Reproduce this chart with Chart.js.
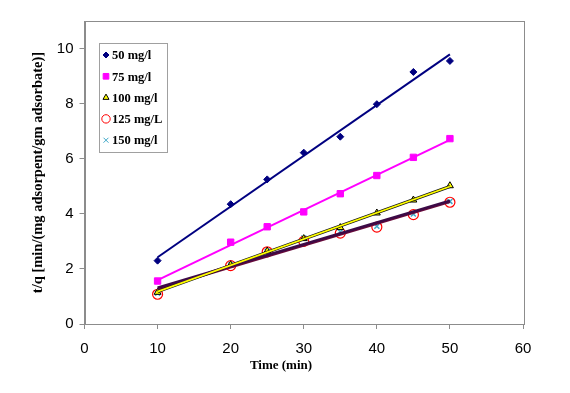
<!DOCTYPE html>
<html>
<head>
<meta charset="utf-8">
<script src="https://cdn.jsdelivr.net/npm/chart.js@4.4.1/dist/chart.umd.min.js"></script>
<style>
  html, body { margin: 0; padding: 0; background: #fff; }
</style>
</head>
<body>
<canvas id="kineticsChart" width="570" height="393"></canvas>
<script>
// Pseudo-second-order plot: t/q against time for each initial concentration
const times = [10, 20, 25, 30, 35, 40, 45, 50];
const seriesLabels = ["50 mg/l", "75 mg/l", "100 mg/l", "125 mg/L", "150 mg/l"];
const conc50 = [2.3, 4.35, 5.25, 6.22, 6.8, 7.98, 9.15, 9.55];
const conc75 = [1.56, 2.97, 3.53, 4.07, 4.73, 5.39, 6.05, 6.73];
const conc100 = [1.15, 2.15, 2.65, 3.1, 3.5, 4.03, 4.5, 5.02];
const conc125 = [1.08, 2.12, 2.62, 3.0, 3.3, 3.52, 3.97, 4.42];
const conc150 = [1.12, 2.14, 2.64, 3.12, 3.35, 3.55, 3.99, 4.45];
const xTicks = [0, 10, 20, 30, 40, 50, 60];
const yTicks = [0, 2, 4, 6, 8, 10];
const xTitle = "Time (min)";

const serif = "'Liberation Serif', 'Times New Roman', serif";
const sans = "'Liberation Sans', Arial, sans-serif";

function points(values) {
  return times.map((t, i) => ({ x: t, y: values[i] }));
}

// least squares line, drawn over the measured range like an Excel trendline
function trend(values) {
  const n = times.length;
  const mx = times.reduce((a, b) => a + b, 0) / n;
  const my = values.reduce((a, b) => a + b, 0) / n;
  let sxy = 0, sxx = 0;
  times.forEach((t, i) => {
    sxy += (t - mx) * (values[i] - my);
    sxx += (t - mx) * (t - mx);
  });
  const slope = sxy / sxx;
  const x0 = times[0], x1 = times[n - 1];
  return [
    { x: x0, y: my + slope * (x0 - mx) },
    { x: x1, y: my + slope * (x1 - mx) },
  ];
}

function markerSet(label, values, style) {
  return Object.assign({
    label: label,
    data: points(values),
    showLine: false,
    order: 3,
  }, style);
}

// lower order is painted later, i.e. on top
function trendSet(values, color, width, order) {
  return {
    label: "trend",
    data: trend(values),
    showLine: true,
    pointRadius: 0,
    borderColor: color,
    borderWidth: width,
    fill: false,
    order: order,
  };
}

// legend box inside the plot, as in the spreadsheet chart
const insideLegend = {
  id: "insideLegend",
  afterDraw(chart) {
    const ctx = chart.ctx;
    ctx.save();
    ctx.strokeStyle = "#a0a0a0";
    ctx.lineWidth = 1;
    ctx.strokeRect(99.5, 43.5, 68, 109);
    ctx.font = "bold 12.5px " + serif;
    ctx.textBaseline = "middle";
    ctx.fillStyle = "#000";
    chart.data.datasets.forEach((ds, i) => {
      if (ds.label === "trend") return;
      const y = 55 + i * 21.3;
      ctx.save();
      ctx.fillStyle = ds.backgroundColor;
      ctx.strokeStyle = ds.borderColor;
      Chart.helpers.drawPoint(ctx, {
        pointStyle: ds.pointStyle,
        radius: ds.legendRadius,
        rotation: 0,
        borderWidth: ds.borderWidth,
      }, 106, y);
      ctx.restore();
      ctx.fillText(ds.label, 112, y + 1);
    });
    ctx.restore();
  },
};

// grey plot area frame, plus the x title which sits left of centre
const plotFrame = {
  id: "plotFrame",
  beforeDatasetsDraw(chart) {
    const a = chart.chartArea;
    const ctx = chart.ctx;
    ctx.save();
    ctx.strokeStyle = "#8c8c8c";
    ctx.lineWidth = 1;
    ctx.strokeRect(Math.round(a.left) + 0.5, Math.round(a.top) + 0.5,
      Math.round(a.right - a.left), Math.round(a.bottom - a.top));
    ctx.restore();
  },
  afterDraw(chart) {
    const ctx = chart.ctx;
    ctx.save();
    ctx.font = "bold 13px " + serif;
    ctx.fillStyle = "#000";
    ctx.textAlign = "center";
    ctx.textBaseline = "middle";
    ctx.fillText(xTitle, 281, 366);
    ctx.restore();
  },
};

const ctx = document.getElementById("kineticsChart").getContext("2d");
const kineticsChart = new Chart(ctx, {
  type: "scatter",
  data: {
    datasets: [
      markerSet(seriesLabels[0], conc50, {
        pointStyle: "rectRot", pointRadius: 3.5, legendRadius: 3,
        backgroundColor: "#000080", borderColor: "#000080", borderWidth: 1,
      }),
      markerSet(seriesLabels[1], conc75, {
        pointStyle: "rect", pointRadius: 4.5, legendRadius: 4,
        backgroundColor: "#ff00ff", borderColor: "#ff00ff", borderWidth: 1,
      }),
      markerSet(seriesLabels[2], conc100, {
        pointStyle: "triangle", pointRadius: 4, legendRadius: 3.5,
        backgroundColor: "#ffff00", borderColor: "#000000", borderWidth: 1,
      }),
      markerSet(seriesLabels[3], conc125, {
        pointStyle: "circle", pointRadius: 5, legendRadius: 4.2,
        backgroundColor: "rgba(0,0,0,0)", borderColor: "#ff0000", borderWidth: 1.2,
      }),
      markerSet(seriesLabels[4], conc150, {
        pointStyle: "crossRot", pointRadius: 3.5, legendRadius: 3.5,
        backgroundColor: "#3fa8c8", borderColor: "#3fa8c8", borderWidth: 1.5,
      }),
      trendSet(conc50, "#000080", 2, 1),
      trendSet(conc75, "#ff00ff", 2, 1),
      trendSet(conc100, "#111111", 3, 2),
      trendSet(conc100, "#ffff00", 1.8, 1),
      trendSet(conc125, "#6a0a3a", 2.5, 2),
      trendSet(conc150, "#3c0a46", 2.5, 1),
    ],
  },
  options: {
    responsive: false,
    animation: false,
    layout: {
      padding: { left: 26, right: 47, top: 21, bottom: 0 },
    },
    plugins: {
      legend: { display: false },
      tooltip: { enabled: false },
    },
    scales: {
      x: {
        type: "linear",
        min: 0,
        max: 60,
        afterBuildTicks(scale) {
          scale.ticks = xTicks.map((v) => ({ value: v }));
        },
        afterFit(scale) {
          scale.height = 69;
        },
        border: { color: "#8c8c8c" },
        grid: { drawOnChartArea: false, color: "#8c8c8c", tickLength: 5 },
        ticks: {
          color: "#000",
          padding: 11,
          font: { family: sans, size: 15 },
        },
      },
      y: {
        type: "linear",
        min: 0,
        max: 11,
        afterBuildTicks(scale) {
          scale.ticks = yTicks.map((v) => ({ value: v }));
        },
        afterFit(scale) {
          scale.width = 58.5;
        },
        border: { color: "#8c8c8c" },
        grid: { drawOnChartArea: false, color: "#8c8c8c", tickLength: 5 },
        ticks: {
          color: "#000",
          padding: 6,
          font: { family: sans, size: 15 },
        },
        title: {
          display: true,
          text: "t/q [min/(mg adsorpent/gm adsorbate)]",
          color: "#000",
          font: { family: serif, size: 14.5, weight: "bold" },
          padding: { top: 4, bottom: 4 },
        },
      },
    },
  },
  plugins: [plotFrame, insideLegend],
});
</script>
</body>
</html>
